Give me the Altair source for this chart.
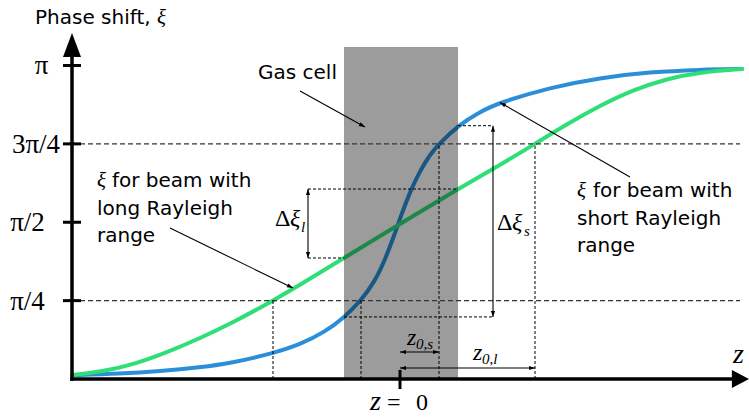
import math

import altair as alt
import pandas as pd

# ---------------------------------------------------------------------------
# Gouy phase shift xi(z) across a focus, xi given in units of pi,
# z in arbitrary units with the focus at z = 0
# ---------------------------------------------------------------------------
z_short = [-32.8, -28.0, -24.0, -20.0, -16.7, -12.7, -10.0, -7.5, -5.6, -3.9, -2.5,
           -1.5, -0.5, 0.2, 1.0, 2.0, 3.0, 3.9, 5.8, 8.0, 10.0, 15.0, 20.0, 25.0,
           30.0, 34.2]
xi_short = [0.012, 0.017, 0.025, 0.037, 0.052, 0.082, 0.110, 0.150, 0.196, 0.25, 0.312,
            0.380, 0.465, 0.530, 0.597, 0.664, 0.716, 0.75, 0.808, 0.853, 0.882, 0.930,
            0.961, 0.979, 0.987, 0.989]

z_long = [-32.8, -30.0, -26.7, -23.3, -20.0, -16.7, -12.7, -10.0, -5.6, -0.5, 5.8,
          10.0, 13.5, 16.7, 20.0, 23.3, 26.7, 30.0, 34.2]
xi_long = [0.013, 0.022, 0.046, 0.085, 0.130, 0.180, 0.25, 0.300, 0.386, 0.485, 0.606,
           0.683, 0.75, 0.813, 0.872, 0.922, 0.958, 0.979, 0.989]

# y-axis ticks (multiples of pi) and their labels
tick_levels = [0.25, 0.5, 0.75, 1.0]
tick_labels = ["π/4", "π/2", "3π/4", "π"]

# gas cell extent along z, Rayleigh ranges
cell_z = [-5.6, 5.8]
z0_s = 3.9
z0_l = 13.5

# phase of each beam at the cell entrance / exit
xi_short_cell = [0.198, 0.808]
xi_long_cell = [0.386, 0.606]

# ---------------------------------------------------------------------------
# scales: 10 px per z unit, 313.5 px per pi, origin of the figure at (400, 379)
# ---------------------------------------------------------------------------
W, H = 749, 417
PX_Z, PX_PI = 10.0, 313.5
X0, Y0 = 400.0, 379.0
XDOM = [-X0 / PX_Z, (W - X0) / PX_Z]
YDOM = [(Y0 - H) / PX_PI, Y0 / PX_PI]

BLUE = "#2a8fd8"
GREEN = "#2edf78"
SANS = "DejaVu Sans"
SERIF = "Liberation Serif"

xs = alt.Scale(domain=XDOM, nice=False, zero=False)
ys = alt.Scale(domain=YDOM, nice=False, zero=False)
X = alt.X("z:Q", scale=xs, axis=None)
Y = alt.Y("xi:Q", scale=ys, axis=None)
X2 = alt.X2("z2:Q")
Y2 = alt.Y2("xi2:Q")

AX_Z = -32.8           # position of the vertical axis
TIP_Y = 1.1037         # tip of the vertical arrow
TIP_X = 34.9           # tip of the horizontal arrow


def seg_df(rows):
    return pd.DataFrame(rows, columns=["z", "xi", "z2", "xi2"])


def heading(z1, xi1, z2, xi2):
    """Clockwise angle from 'up' of the screen direction from point 1 to point 2."""
    dx = (z2 - z1) * PX_Z
    dy = (xi2 - xi1) * PX_PI
    return math.degrees(math.atan2(dx, dy)) % 360


# ---------------------------------------------------------------------------
# curves and gas cell
# ---------------------------------------------------------------------------
blue = alt.Chart(pd.DataFrame({"z": z_short, "xi": xi_short})).mark_line(
    color=BLUE, strokeWidth=4, interpolate="basis", strokeCap="round"
).encode(x=X, y=Y)

green = alt.Chart(pd.DataFrame({"z": z_long, "xi": xi_long})).mark_line(
    color=GREEN, strokeWidth=4, interpolate="basis", strokeCap="round"
).encode(x=X, y=Y)

cell = alt.Chart(seg_df([[cell_z[0], 0.0, cell_z[1], 1.059]])).mark_rect(
    color="black", opacity=0.39
).encode(x=X, x2=X2, y=Y, y2=Y2)

# ---------------------------------------------------------------------------
# guide lines
# ---------------------------------------------------------------------------
level_lines = alt.Chart(seg_df([
    [AX_Z, 0.25, 34.0, 0.25],
    [AX_Z, 0.75, 34.0, 0.75],
])).mark_rule(color="#333333", strokeWidth=1.3, strokeDash=[5, 3]).encode(
    x=X, x2=X2, y=Y, y2=Y2)

dim_x_l = -9.2
dim_x_s = 9.3
fine_dash = alt.Chart(seg_df([
    [-12.7, 0.0, -12.7, 0.25],
    [-z0_s, 0.0, -z0_s, 0.25],
    [z0_s, 0.0, z0_s, 0.75],
    [z0_l, 0.0, z0_l, 0.75],
    [dim_x_l, xi_long_cell[1], cell_z[1], xi_long_cell[1]],
    [dim_x_l, xi_long_cell[0], cell_z[0], xi_long_cell[0]],
    [cell_z[1], xi_short_cell[1], dim_x_s, xi_short_cell[1]],
    [cell_z[0], xi_short_cell[0], dim_x_s, xi_short_cell[0]],
])).mark_rule(color="black", strokeWidth=1, strokeDash=[3, 2]).encode(
    x=X, x2=X2, y=Y, y2=Y2)

# dimension arrows (double headed) and callouts (single headed)
dims = [
    [dim_x_l, xi_long_cell[0], dim_x_l, xi_long_cell[1]],
    [dim_x_s, xi_short_cell[0], dim_x_s, xi_short_cell[1]],
    [0.0, 0.0861, z0_s, 0.0861],
    [0.0, 0.0351, z0_l, 0.0351],
]
callouts = [
    [-10.0, 0.9187, -3.5, 0.8038],     # gas cell
    [-23.0, 0.4817, -10.7, 0.290],     # long Rayleigh range beam
    [23.0, 0.6443, 10.0, 0.882],       # short Rayleigh range beam
]
thin = alt.Chart(seg_df(dims + callouts)).mark_rule(
    color="black", strokeWidth=1.1).encode(x=X, x2=X2, y=Y, y2=Y2)

heads = []
for z1, xi1, z2, xi2 in dims:
    heads.append({"z": z2, "xi": xi2, "angle": heading(z1, xi1, z2, xi2)})
    heads.append({"z": z1, "xi": xi1, "angle": heading(z2, xi2, z1, xi1)})
for z1, xi1, z2, xi2 in callouts:
    heads.append({"z": z2, "xi": xi2, "angle": heading(z1, xi1, z2, xi2)})

small_heads = alt.Chart(pd.DataFrame(heads)).mark_point(
    shape="M0,0L-0.7,2L0.7,2Z", filled=True, color="black", opacity=1, size=36
).encode(x=X, y=Y, angle=alt.Angle("angle:Q", scale=None))

# ---------------------------------------------------------------------------
# axes drawn as arrows
# ---------------------------------------------------------------------------
axes = alt.Chart(seg_df([
    [AX_Z, 0.0, AX_Z, 1.04],
    [AX_Z, 0.0, 33.5, 0.0],
])).mark_rule(color="black", strokeWidth=3.5, strokeCap="square").encode(
    x=X, x2=X2, y=Y, y2=Y2)

ticks = alt.Chart(pd.DataFrame(
    [[-33.7, v, -31.9, v] for v in tick_levels] + [[0.0, 0.029, 0.0, -0.032]],
    columns=["z", "xi", "z2", "xi2"],
)).mark_rule(color="black", strokeWidth=3).encode(x=X, x2=X2, y=Y, y2=Y2)

y_head = alt.Chart(pd.DataFrame({"z": [AX_Z], "xi": [TIP_Y]})).mark_point(
    shape="M0,0L-0.75,2L0.75,2Z", filled=True, color="black", opacity=1, size=576
).encode(x=X, y=Y)

x_head = alt.Chart(pd.DataFrame({"z": [TIP_X], "xi": [0.0]})).mark_point(
    shape="M0,0L-1.9,-1L-1.9,1Z", filled=True, color="black", opacity=1, size=324
).encode(x=X, y=Y)

# ---------------------------------------------------------------------------
# text
# ---------------------------------------------------------------------------
def text_layer(rows, **mark):
    df = pd.DataFrame(rows, columns=["z", "xi", "label"])
    base = dict(align="left", baseline="alphabetic", color="black")
    base.update(mark)
    return alt.Chart(df).mark_text(**base).encode(x=X, y=Y, text="label:N")


tick_text = alt.Chart(pd.DataFrame({
    "z": [-37.25, -37.25, -36.4, -35.85],
    "xi": [0.2201, 0.4721, 0.7209, 0.9729],
    "label": tick_labels,
})).mark_text(
    align="center", baseline="alphabetic", font=SERIF, fontSize=27, color="black"
).encode(x=X, y=Y, text="label:N")

sans_text = text_layer([
    [-36.5, 1.1324, "Phase shift,"],
    [-14.2, 0.9569, "Gas cell"],
    [-28.8, 0.6124, "for beam with"],
    [-30.3, 0.5231, "long Rayleigh"],
    [-30.3, 0.4370, "range"],
    [19.3, 0.5805, "for beam with"],
    [17.7, 0.4912, "short Rayleigh"],
    [17.7, 0.4051, "range"],
], font=SANS, fontSize=20)

xi_text = text_layer([
    [-24.3, 1.1324, "ξ"],
    [-30.3, 0.6124, "ξ"],
    [17.7, 0.5805, "ξ"],
], font=SERIF, fontSize=21, fontStyle="italic")

delta_text = text_layer([
    [-12.5, 0.4880, "Δ"],
    [9.7, 0.4753, "Δ"],
    [-1.3, -0.0989, "="],
    [1.6, -0.0989, "0"],
], font=SERIF, fontSize=24)

italic_text = text_layer([
    [-11.0, 0.4880, "ξ"],
    [11.2, 0.4753, "ξ"],
    [0.7, 0.1085, "z"],
    [7.3, 0.0606, "z"],
], font=SERIF, fontSize=24, fontStyle="italic")

big_italic = text_layer([
    [33.3, 0.0510, "z"],
    [-3.0, -0.0989, "z"],
], font=SERIF, fontSize=28, fontStyle="italic")

sub_text = text_layer([
    [-9.9, 0.4689, "l"],
    [12.4, 0.4561, "s"],
    [1.6, 0.0957, "0,s"],
    [8.2, 0.0478, "0,l"],
], font=SERIF, fontSize=15, fontStyle="italic")

chart = alt.layer(
    blue, green, cell,
    level_lines, fine_dash, thin, small_heads,
    axes, ticks, y_head, x_head,
    tick_text, sans_text, xi_text, delta_text, italic_text, big_italic, sub_text,
).properties(
    width=W, height=H, padding=0,
    autosize=alt.AutoSizeParams(type="none"),
    background="white",
).configure_view(stroke=None)

chart.save("out.html", embed_options={"renderer": "svg", "actions": False})
